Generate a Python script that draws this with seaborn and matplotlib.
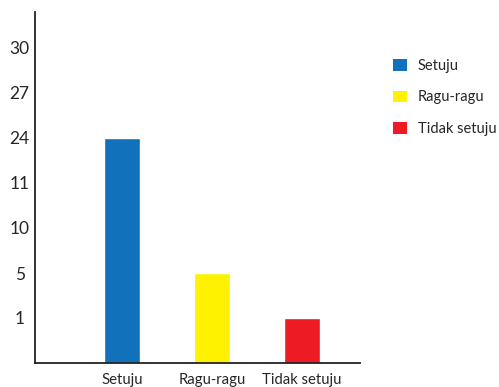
import matplotlib
matplotlib.use("Agg")
import matplotlib.pyplot as plt
import seaborn as sns
import pandas as pd
from matplotlib.patches import Patch

categories = ["Setuju", "Ragu-ragu", "Tidak setuju"]
values = [24, 5, 1]
tick_labels = [1, 5, 10, 11, 24, 27, 30]
colors = ["#1172BB", "#FFF200", "#ED1C24"]

# The chart's y axis is ordinal: each label sits at an equally spaced position
positions = [tick_labels.index(v) + 1 for v in values]
df = pd.DataFrame({"cat": categories, "pos": positions})

sns.set_style("white")
plt.rcParams["font.family"] = ["Lato", "DejaVu Sans"]

W, H = 499, 387
fig = plt.figure(figsize=(W / 100, H / 100), dpi=100)
ax = fig.add_axes([35 / W, (H - 363) / H, (360 - 35) / W, (363 - 12) / H])

sns.barplot(data=df, x="cat", y="pos", hue="cat", palette=colors,
            width=0.4, legend=False, ax=ax, saturation=1)

ax.set_xlim(-0.967, 2.644)
ax.set_ylim(0, 7.8)
ax.set_yticks(range(1, len(tick_labels) + 1))
ax.set_yticklabels([str(t) for t in tick_labels], fontsize=12.5, ha="center")
ax.tick_params(axis="y", length=0, pad=11)
ax.tick_params(axis="x", length=0, pad=7, labelsize=10.7)
ax.set_xlabel("")
ax.set_ylabel("")
for s in ["top", "right"]:
    ax.spines[s].set_visible(False)
for s in ["left", "bottom"]:
    ax.spines[s].set_color("#222222")
    ax.spines[s].set_linewidth(1.3)

fs = 10.5
handles = [Patch(facecolor=c, edgecolor="none", label=l) for c, l in zip(colors, categories)]
fig.legend(handles=handles, loc="upper left", bbox_to_anchor=(393 / W, 1 - 59 / H),
           frameon=False, fontsize=fs, handlelength=0.95, handleheight=0.85,
           handletextpad=0.75, labelspacing=1.2, borderpad=0, borderaxespad=0)

fig.savefig("out.png", dpi=100)
